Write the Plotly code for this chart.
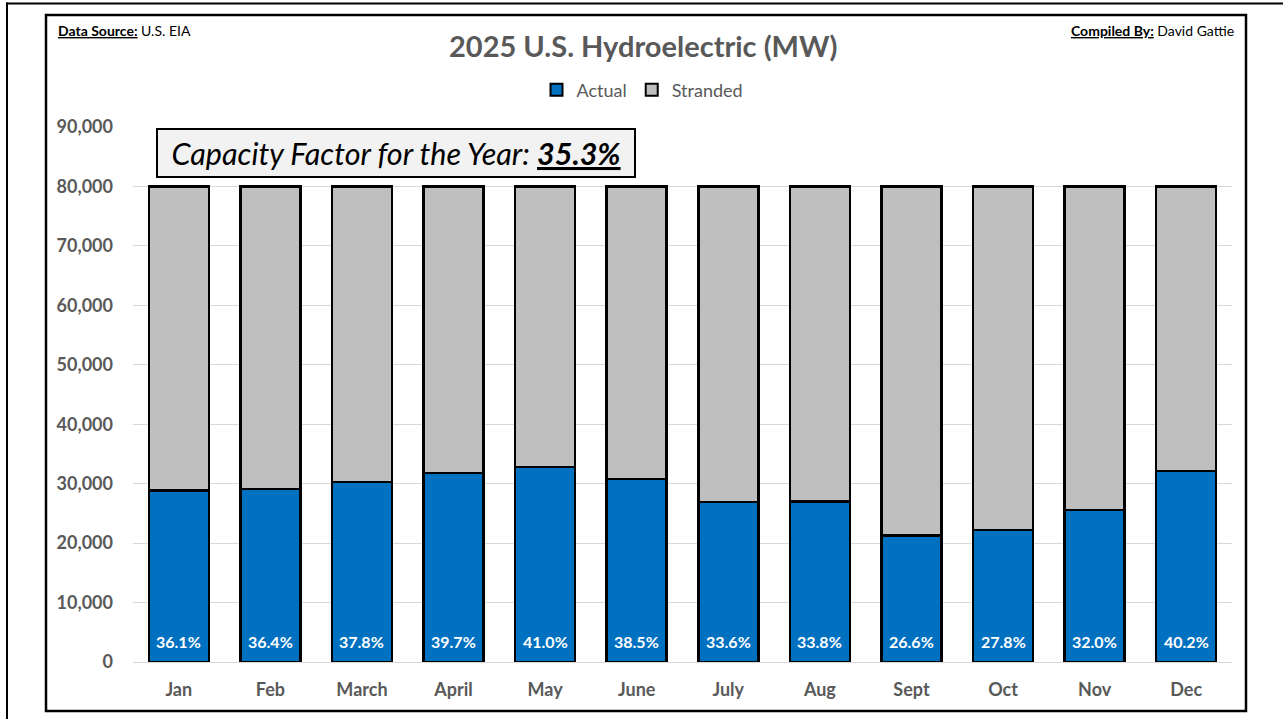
import plotly.graph_objects as go

months = ["Jan", "Feb", "March", "April", "May", "June", "July", "Aug", "Sept", "Oct", "Nov", "Dec"]
capacity_factor_pct = [36.1, 36.4, 37.8, 39.7, 41.0, 38.5, 33.6, 33.8, 26.6, 27.8, 32.0, 40.2]
capacity_mw = 80000
actual_mw = [28880, 29120, 30240, 31760, 32800, 30800, 26880, 27040, 21280, 22240, 25600, 32160]
stranded_mw = [capacity_mw - a for a in actual_mw]
y_ticks = [0, 10000, 20000, 30000, 40000, 50000, 60000, 70000, 80000, 90000]
year_cf = "35.3%"

FONT = "Lato"
GRAY_TXT = "#595959"

W, H = 1283, 719
L, R, T, B = 133, 1232, 127, 662


def px(x):
    return (x - L) / (R - L)


def py(y):
    return (B - y) / (B - T)


fig = go.Figure()
fig.add_trace(go.Bar(
    x=months, y=actual_mw, name="Actual",
    marker=dict(color="#0070C0", line=dict(color="black", width=2.5)),
))
fig.add_trace(go.Bar(
    x=months, y=stranded_mw, name="Stranded",
    marker=dict(color="#BFBFBF", line=dict(color="black", width=2.5)),
))

annotations = []
for m, p in zip(months, capacity_factor_pct):
    annotations.append(dict(
        x=m, y=3500, xref="x", yref="y", text=f"<b>{p:.1f}%</b>", showarrow=False,
        font=dict(family=FONT, size=16, color="white"),
    ))

annotations.append(dict(
    x=px(643), y=py(46), xref="paper", yref="paper", showarrow=False,
    xanchor="center", yanchor="middle",
    text="<b>2025 U.S. Hydroelectric (MW)</b>",
    font=dict(family=FONT, size=29, color=GRAY_TXT),
))
annotations.append(dict(
    x=px(56), y=py(30), xref="paper", yref="paper", showarrow=False,
    xanchor="left", yanchor="middle",
    text="<b><u>Data Source:</u></b> U.S. EIA",
    font=dict(family=FONT, size=14, color="black"),
))
annotations.append(dict(
    x=px(1236), y=py(30), xref="paper", yref="paper", showarrow=False,
    xanchor="right", yanchor="middle",
    text="<b><u>Compiled By:</u></b> David Gattie",
    font=dict(family=FONT, size=14, color="black"),
))
annotations.append(dict(
    x=px(395.5), y=py(152.7), xref="paper", yref="paper", showarrow=False,
    xanchor="center", yanchor="middle",
    text=f"<i>Capacity Factor for the Year: <b><u>{year_cf}</u></b></i>",
    font=dict(family=FONT, size=30.5, color="black"),
    bgcolor="#F2F2F2", bordercolor="black", borderwidth=2,
    width=474, height=44,
))

shapes = [
    dict(type="line", xref="paper", yref="paper",
         x0=px(6), y0=py(3.5), x1=px(1290), y1=py(3.5),
         line=dict(color="black", width=2), layer="above"),
    dict(type="line", xref="paper", yref="paper",
         x0=px(7), y0=py(2.5), x1=px(7), y1=py(725),
         line=dict(color="black", width=2), layer="above"),
    dict(type="rect", xref="paper", yref="paper",
         x0=px(46), y0=py(711), x1=px(1246), y1=py(15),
         line=dict(color="black", width=2.5), fillcolor="rgba(0,0,0,0)", layer="above"),
]

fig.update_layout(
    width=W, height=H,
    margin=dict(l=L, r=W - R, t=T, b=H - B),
    barmode="stack", bargap=0.345,
    plot_bgcolor="white", paper_bgcolor="white",
    showlegend=True,
    legend=dict(orientation="h", x=px(642.5), xanchor="center", y=py(90), yanchor="middle",
                font=dict(family=FONT, size=18, color=GRAY_TXT),
                itemsizing="constant", traceorder="normal", bgcolor="rgba(0,0,0,0)",
                itemwidth=30),
    annotations=annotations,
    shapes=shapes,
    font=dict(family=FONT),
)
fig.update_yaxes(
    range=[0, 90000], tickvals=y_ticks, tickformat=",d",
    showgrid=True, gridcolor="#D9D9D9", gridwidth=1,
    zeroline=True, zerolinecolor="#D9D9D9", zerolinewidth=1,
    showline=False,
    tickfont=dict(family=FONT, size=18, color=GRAY_TXT, weight="bold"), ticklabelstandoff=19,
)
fig.update_xaxes(
    showgrid=False, showline=False,
    tickfont=dict(family=FONT, size=18, color=GRAY_TXT, weight="bold"), ticklabelstandoff=15,
)

fig.write_html("out.html", config={"displayModeBar": False},
               post_script="document.body.style.margin='0';document.body.style.overflow='hidden';")
